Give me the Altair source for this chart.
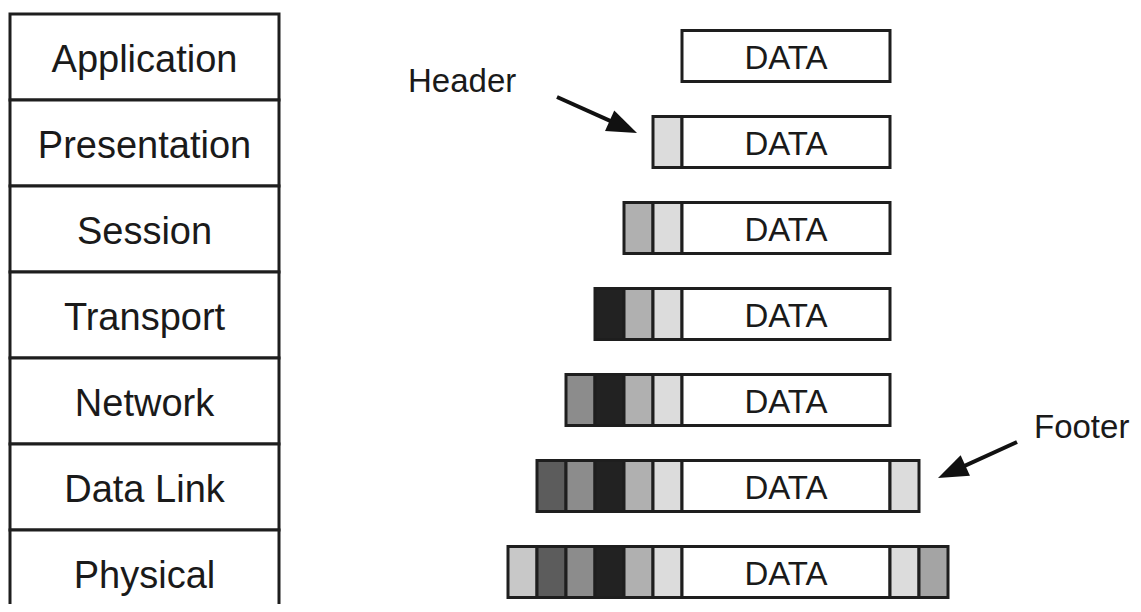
import math
import altair as alt
import pandas as pd

# ---------------- data ----------------
layers = ["Application", "Presentation", "Session", "Transport",
          "Network", "Data Link", "Physical"]
# header pieces added by each layer (outermost first)
headers = [[], ["pres"], ["sess", "pres"], ["trans", "sess", "pres"],
           ["net", "trans", "sess", "pres"],
           ["link", "net", "trans", "sess", "pres"],
           ["phys", "link", "net", "trans", "sess", "pres"]]
# footer pieces (innermost first)
footers = [[], [], [], [], [], ["linkF"], ["linkF", "physF"]]
shade_names = ["pres", "sess", "trans", "net", "link", "phys", "linkF", "physF", "data", "layer"]
shade_colors = ["#dcdcdc", "#b0b0b0", "#222222", "#8c8c8c", "#5c5c5c",
                "#c8c8c8", "#dcdcdc", "#a4a4a4", "#ffffff", "#ffffff"]
payload_label = "DATA"
annotation_labels = ["Header", "Footer"]

# ---------------- layout ----------------
TOP, ROW_H = 14, 86
LEFT_X0, LEFT_X1 = 10, 279
SEG_W, DATA_X0, DATA_W, BOX_H, BOX_DY = 29.0, 682, 208, 51, -1
FONT = "Liberation Sans, Arial, sans-serif"
STROKE = "#1e1e1e"
TEXT_COLOR = "#1a1a1a"

layer_rows, seg_rows, data_rows = [], [], []
for i, name in enumerate(layers):
    c = TOP + ROW_H * (i + 0.5)
    layer_rows.append(dict(name=name, x0=LEFT_X0, x1=LEFT_X1,
                           y0=TOP + ROW_H * i, y1=TOP + ROW_H * (i + 1),
                           xc=(LEFT_X0 + LEFT_X1) / 2, yc=c, shade="layer"))
    y0, y1 = c + BOX_DY - BOX_H / 2, c + BOX_DY + BOX_H / 2
    n = len(headers[i])
    for j, s in enumerate(headers[i]):
        x0 = DATA_X0 - (n - j) * SEG_W
        seg_rows.append(dict(x0=x0, x1=x0 + SEG_W, y0=y0, y1=y1, shade=s))
    seg_rows.append(dict(x0=DATA_X0, x1=DATA_X0 + DATA_W, y0=y0, y1=y1, shade="data"))
    for j, s in enumerate(footers[i]):
        x0 = DATA_X0 + DATA_W + j * SEG_W
        seg_rows.append(dict(x0=x0, x1=x0 + SEG_W, y0=y0, y1=y1, shade=s))
    data_rows.append(dict(label=payload_label, xc=DATA_X0 + DATA_W / 2, yc=c + BOX_DY))

layer_df = pd.DataFrame(layer_rows)
seg_df = pd.DataFrame(seg_rows)
data_df = pd.DataFrame(data_rows)

# annotations: arrows pointing at the first header and first footer
pres_c = TOP + ROW_H * 1.5
link_c = TOP + ROW_H * 5.5
tips = [(DATA_X0 - SEG_W - 16, pres_c - 10), (DATA_X0 + DATA_W + SEG_W + 19, link_c - 9)]
vecs = [(80, 36), (-79, 36)]
text_pos = [(408, 92), (1034, 438)]
arrow_rows, head_rows, ann_rows = [], [], []
for (tx, ty), (vx, vy), (lx, ly), lab in zip(tips, vecs, text_pos, annotation_labels):
    L = math.hypot(vx, vy)
    ux, uy = vx / L, vy / L
    arrow_rows.append(dict(x0=tx - vx, y0=ty - vy, x1=tx - ux * 16, y1=ty - uy * 16))
    ang = math.degrees(math.atan2(vy, vx)) % 360
    head_rows.append(dict(x=tx, y=ty, ang=ang))
    ann_rows.append(dict(x=lx, y=ly, label=lab))
arrow_df = pd.DataFrame(arrow_rows)
head_df = pd.DataFrame(head_rows)
ann_df = pd.DataFrame(ann_rows)

# ---------------- chart ----------------
W, H = 1125, 596
xs = alt.Scale(domain=[8, 8 + W], nice=False, zero=False)
ys = alt.Scale(domain=[8, 8 + H], nice=False, zero=False, reverse=True)
fill_scale = alt.Scale(domain=shade_names, range=shade_colors)


def X(f):
    return alt.X(f, type="quantitative", scale=xs, axis=None)


def Y(f):
    return alt.Y(f, type="quantitative", scale=ys, axis=None)


layer_boxes = alt.Chart(layer_df).mark_rect(stroke=STROKE, strokeWidth=3, clip=True).encode(
    x=X("x0"), x2="x1", y=Y("y0"), y2="y1",
    fill=alt.Fill("shade:N", scale=fill_scale, legend=None))

layer_text = alt.Chart(layer_df).mark_text(
    font=FONT, fontSize=38, color=TEXT_COLOR, baseline="alphabetic", align="center", dy=15
).encode(x=X("xc"), y=Y("yc"), text="name:N")

segs = alt.Chart(seg_df).mark_rect(stroke=STROKE, strokeWidth=3).encode(
    x=X("x0"), x2="x1", y=Y("y0"), y2="y1",
    fill=alt.Fill("shade:N", scale=fill_scale, legend=None))

data_text = alt.Chart(data_df).mark_text(
    font=FONT, fontSize=33, color=TEXT_COLOR, baseline="alphabetic", align="center", dy=12.5
).encode(x=X("xc"), y=Y("yc"), text="label:N")

arrows = alt.Chart(arrow_df).mark_rule(strokeWidth=4, color="#111111").encode(
    x=X("x0"), x2="x1", y=Y("y0"), y2="y1")

heads = alt.Chart(head_df).mark_point(
    shape="M0,0 L-2,-0.75 L-2,0.75 Z", size=900, filled=True, opacity=1, color="#111111"
).encode(x=X("x"), y=Y("y"), angle=alt.Angle("ang:Q", scale=None))

ann_text = alt.Chart(ann_df).mark_text(
    font=FONT, fontSize=33, color=TEXT_COLOR, baseline="alphabetic", align="left"
).encode(x=X("x"), y=Y("y"), text="label:N")

chart = alt.layer(layer_boxes, segs, layer_text, data_text, arrows, heads, ann_text).properties(
    width=W, height=H, padding=0, background="white",
    autosize=alt.AutoSizeParams(type="none")
).configure_view(stroke=None)

chart.save("out.html", embed_options={"renderer": "svg", "actions": False})
